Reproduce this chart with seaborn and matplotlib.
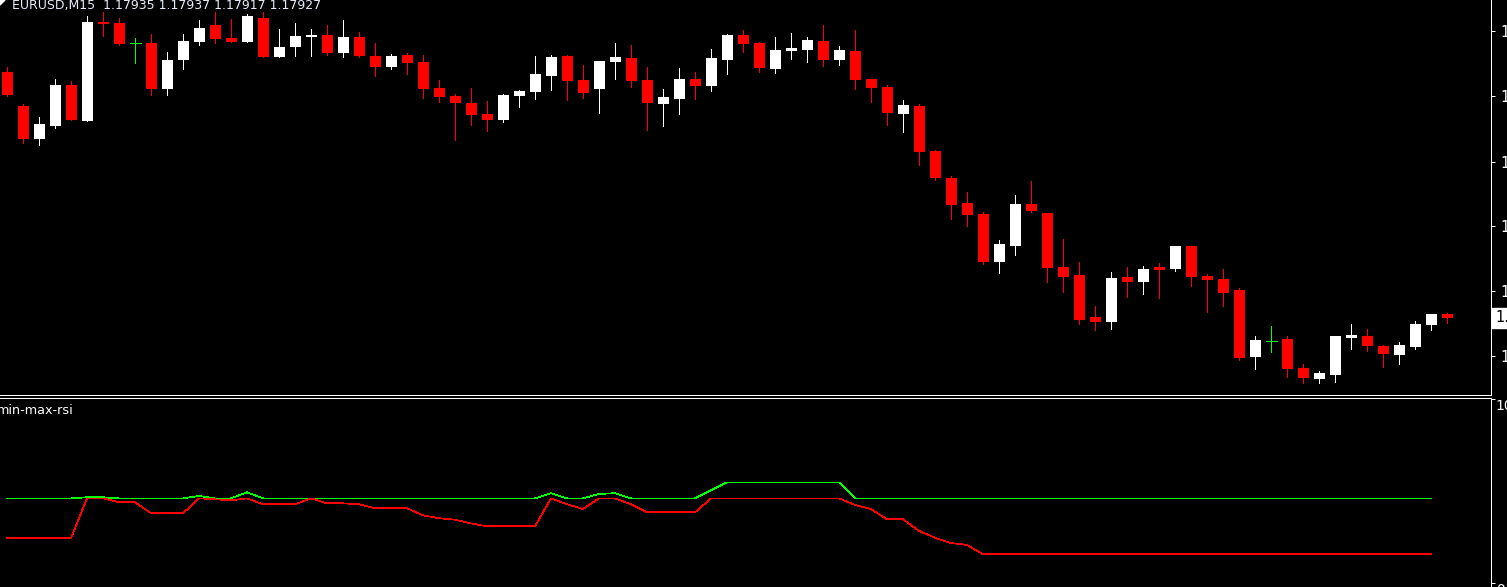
import numpy as np
import matplotlib
matplotlib.use("Agg")
import matplotlib.pyplot as plt
import seaborn as sns

# EURUSD M15 bars (open, high, low, close)
opens = [1.18419, 1.18351, 1.18285, 1.18311, 1.18393, 1.18321, 1.18519, 1.18517, 1.18477, 1.18477,
         1.18385, 1.18443, 1.18479, 1.18513, 1.18487, 1.18479, 1.18527, 1.18449, 1.18469, 1.18488,
         1.18493, 1.18457, 1.18489, 1.18451, 1.18429, 1.18453, 1.18439, 1.18387, 1.18371, 1.18357,
         1.18335, 1.18323, 1.18371, 1.18379, 1.18411, 1.18451, 1.18403, 1.18385, 1.18439, 1.18447,
         1.18403, 1.18355, 1.18365, 1.18405, 1.18391, 1.18443, 1.18493, 1.18477, 1.18425, 1.18461,
         1.18463, 1.18481, 1.18443, 1.18461, 1.18405, 1.18389, 1.18335, 1.18351, 1.18261, 1.18207,
         1.18157, 1.18135, 1.18039, 1.18071, 1.18155, 1.18137, 1.18029, 1.18013, 1.17929, 1.17919,
         1.18009, 1.17999, 1.18029, 1.18025, 1.18071, 1.18011, 1.18005, 1.17983, 1.17849, 1.17881,
         1.17885, 1.17827, 1.17805, 1.17813, 1.17887, 1.17891, 1.17871, 1.17853, 1.17869, 1.17913,
         1.17935]
highs = [1.18429, 1.18355, 1.18329, 1.18405, 1.18401, 1.18531, 1.18539, 1.18527, 1.18487, 1.18495,
         1.18459, 1.18495, 1.18523, 1.18539, 1.18525, 1.18535, 1.18539, 1.18505, 1.18517, 1.18505,
         1.18513, 1.18523, 1.18499, 1.18477, 1.18455, 1.18457, 1.18453, 1.18403, 1.18375, 1.18387,
         1.18361, 1.18375, 1.18383, 1.18451, 1.18453, 1.18453, 1.18433, 1.18441, 1.18477, 1.18473,
         1.18429, 1.18385, 1.18427, 1.18419, 1.18465, 1.18495, 1.18503, 1.18479, 1.18489, 1.18497,
         1.18489, 1.18513, 1.18471, 1.18503, 1.18405, 1.18393, 1.18363, 1.18355, 1.18263, 1.18211,
         1.18179, 1.18139, 1.18083, 1.18173, 1.18201, 1.18137, 1.18085, 1.18039, 1.17951, 1.18019,
         1.18029, 1.18031, 1.18037, 1.18071, 1.18071, 1.18015, 1.18025, 1.17987, 1.17891, 1.17911,
         1.17891, 1.17835, 1.17821, 1.17891, 1.17915, 1.17905, 1.17873, 1.17879, 1.17921, 1.17935,
         1.17937]
lows = [1.18371, 1.18277, 1.18273, 1.18307, 1.18323, 1.18321, 1.18491, 1.18473, 1.18437, 1.18373,
        1.18373, 1.18425, 1.18473, 1.18477, 1.18479, 1.18479, 1.18449, 1.18449, 1.18451, 1.18451,
        1.18453, 1.18449, 1.18449, 1.18411, 1.18425, 1.18415, 1.18367, 1.18359, 1.18283, 1.18313,
        1.18301, 1.18319, 1.18349, 1.18365, 1.18383, 1.18363, 1.18367, 1.18337, 1.18405, 1.18389,
        1.18303, 1.18311, 1.18335, 1.18365, 1.18381, 1.18415, 1.18459, 1.18419, 1.18417, 1.18445,
        1.18439, 1.18431, 1.18433, 1.18385, 1.18359, 1.18313, 1.18299, 1.18233, 1.18203, 1.18125,
        1.18111, 1.18035, 1.18017, 1.18053, 1.18139, 1.17999, 1.17979, 1.17915, 1.17903, 1.17905,
        1.17969, 1.17975, 1.17967, 1.18021, 1.17991, 1.17939, 1.17951, 1.17843, 1.17825, 1.17859,
        1.17809, 1.17797, 1.17797, 1.17799, 1.17865, 1.17861, 1.17829, 1.17835, 1.17865, 1.17903,
        1.17917]
closes = [1.18373, 1.18285, 1.18315, 1.18393, 1.18323, 1.18519, 1.18515, 1.18475, 1.18477, 1.18385,
          1.18443, 1.18481, 1.18507, 1.18485, 1.18479, 1.18531, 1.18449, 1.18469, 1.18491, 1.18493,
          1.18457, 1.18489, 1.18451, 1.18429, 1.18451, 1.18437, 1.18385, 1.18369, 1.18357, 1.18333,
          1.18323, 1.18373, 1.18381, 1.18415, 1.18449, 1.18401, 1.18377, 1.18441, 1.18449, 1.18401,
          1.18357, 1.18369, 1.18405, 1.18391, 1.18447, 1.18493, 1.18475, 1.18427, 1.18463, 1.18467,
          1.18483, 1.18443, 1.18463, 1.18403, 1.18387, 1.18337, 1.18353, 1.18259, 1.18207, 1.18153,
          1.18133, 1.18039, 1.18075, 1.18155, 1.18141, 1.18027, 1.18009, 1.17923, 1.17919, 1.18007,
          1.17999, 1.18025, 1.18023, 1.18071, 1.18009, 1.18003, 1.17977, 1.17847, 1.17883, 1.17881,
          1.17825, 1.17807, 1.17817, 1.17891, 1.17893, 1.17871, 1.17855, 1.17873, 1.17915, 1.17935,
          1.17927]

# min-max-rsi indicator buffers (bars 0..89)
rsi_max = [46.0, 46.0, 46.0, 46.0, 46.0, 46.6, 46.6, 46.0, 46.0, 46.0,
           46.0, 46.0, 47.3, 46.0, 46.0, 49.3, 46.0, 46.0, 46.0, 46.0,
           46.0, 46.0, 46.0, 46.0, 46.0, 46.0, 46.0, 46.0, 46.0, 46.0,
           46.0, 46.0, 46.0, 46.0, 48.8, 46.0, 46.0, 48.4, 48.8, 46.0,
           46.0, 46.0, 46.0, 46.0, 50.4, 54.7, 54.7, 54.7, 54.7, 54.7,
           54.7, 54.7, 54.7, 46.0, 46.0, 46.0, 46.0, 46.0, 46.0, 46.0,
           46.0, 46.0, 46.0, 46.0, 46.0, 46.0, 46.0, 46.0, 46.0, 46.0,
           46.0, 46.0, 46.0, 46.0, 46.0, 46.0, 46.0, 46.0, 46.0, 46.0,
           46.0, 46.0, 46.0, 46.0, 46.0, 46.0, 46.0, 46.0, 46.0, 46.0]
rsi_min = [24.3, 24.3, 24.3, 24.3, 24.3, 46.0, 46.0, 43.9, 43.9, 37.9,
           37.9, 37.9, 46.0, 45.5, 44.9, 46.0, 42.8, 42.8, 42.8, 46.0,
           43.3, 43.3, 42.8, 40.6, 40.6, 40.6, 36.8, 35.2, 34.4, 32.4,
           30.8, 30.8, 30.8, 30.8, 46.0, 42.8, 40.2, 46.0, 46.0, 42.8,
           38.4, 38.4, 38.4, 38.4, 46.0, 46.0, 46.0, 46.0, 46.0, 46.0,
           46.0, 46.0, 46.0, 42.4, 40.2, 34.6, 34.6, 28.3, 24.6, 21.7,
           20.7, 15.6, 15.6, 15.6, 15.6, 15.6, 15.6, 15.6, 15.6, 15.6,
           15.6, 15.6, 15.6, 15.6, 15.6, 15.6, 15.6, 15.6, 15.6, 15.6,
           15.6, 15.6, 15.6, 15.6, 15.6, 15.6, 15.6, 15.6, 15.6, 15.6]

price_ticks = [1.1850, 1.1837, 1.1824, 1.1811, 1.1798, 1.1785]
title = "EURUSD,M15  1.17935 1.17937 1.17917 1.17927"
last_price = "1.17927"

sns.set_style("dark", {"axes.facecolor": "black", "figure.facecolor": "black"})
plt.rcParams['font.family'] = ['DejaVu Sans']

W, H = 1507, 587
fig = plt.figure(figsize=(W / 100, H / 100), dpi=100)
fig.patch.set_facecolor("black")


def box(x0, y0, x1, y1):
    # pixel box (top-left origin) -> figure fraction
    return [x0 / W, 1 - y1 / H, (x1 - x0) / W, (y1 - y0) / H]


ax = fig.add_axes(box(0, 0, 1491, 395))
ax2 = fig.add_axes(box(0, 397.5, 1491, 587))

px = 0.72  # one pixel in points
n = len(opens)
idx = np.arange(n)
body_w = 11 / 16

for i in idx:
    o, h, l, c = opens[i], highs[i], lows[i], closes[i]
    if c > o:
        col = "white"
    elif c < o:
        col = "#ff0000"
    else:
        col = "#00ff00"
    ax.vlines(i, l, h, color=col, lw=px, zorder=2, antialiased=False)
    if c == o:
        ax.hlines(o, i - body_w / 2, i + body_w / 2, color=col, lw=px, zorder=3,
                  antialiased=False)
    else:
        ax.bar(i, abs(c - o), bottom=min(o, c), width=body_w, color=col,
               linewidth=0, zorder=3)

ax.set_xlim(-7 / 16, (1491 - 7) / 16)
ax.set_ylim(1.18563 - 0.00002 * 395, 1.18563)

for a in (ax, ax2):
    a.set_facecolor("black")
    a.grid(False)
    a.set_xticks([])
    a.yaxis.tick_right()
    a.tick_params(axis="y", colors="white", length=3, width=px, pad=4, labelsize=10.5)
    for s in a.spines.values():
        s.set_visible(False)
    a.spines["right"].set_visible(True)
    a.spines["right"].set_color("white")
    a.spines["right"].set_linewidth(px)

ax.spines["bottom"].set_visible(True)
ax.spines["bottom"].set_color("white")
ax.spines["bottom"].set_linewidth(px)
ax2.spines["top"].set_visible(True)
ax2.spines["top"].set_color("white")
ax2.spines["top"].set_linewidth(px)

ax.set_yticks(price_ticks)
ax.set_yticklabels([f"{t:.4f}" for t in price_ticks])

ax.annotate(last_price, xy=(1, float(last_price)), xycoords=("axes fraction", "data"),
            xytext=(4, 0), textcoords="offset pixels", va="center", ha="left",
            fontsize=10.5, color="black", annotation_clip=False,
            bbox=dict(boxstyle="square,pad=0.2", fc="white", ec="white"))

# indicator window
sns.lineplot(x=idx[:len(rsi_max)], y=rsi_max, ax=ax2, color="#00ff00", linewidth=0.5,
             legend=False, antialiased=False)
sns.lineplot(x=idx[:len(rsi_min)], y=rsi_min, ax=ax2, color="#ff0000", linewidth=0.5,
             legend=False, antialiased=False)
ax2.set_xlim(-7 / 16, (1491 - 7) / 16)
ax2.set_ylim((583 - 587) / 1.84, (583 - 397.5) / 1.84)
ax2.set_xlabel("")
ax2.set_ylabel("")
ax2.set_yticks([0, 100])
ax2.set_yticklabels(["0", "100"])
ax2.tick_params(axis="y", pad=0.5, labelsize=10)
for lab in ax2.get_yticklabels():
    lab.set_va("top")

fig.text(-3 / W, 1 - 410 / H, "min-max-rsi", color="white", fontsize=9.2, va="center", ha="left")
fig.text(12 / W, 1 - 9.5 / H, title, color="#e6ecf8", fontsize=9, va="baseline", ha="left")
fig.patches.append(plt.Polygon([[0, 1], [5 / W, 1], [0, 1 - 5 / H]],
                               transform=fig.transFigure, color="white"))

fig.savefig("out.png", dpi=100, facecolor="black")
